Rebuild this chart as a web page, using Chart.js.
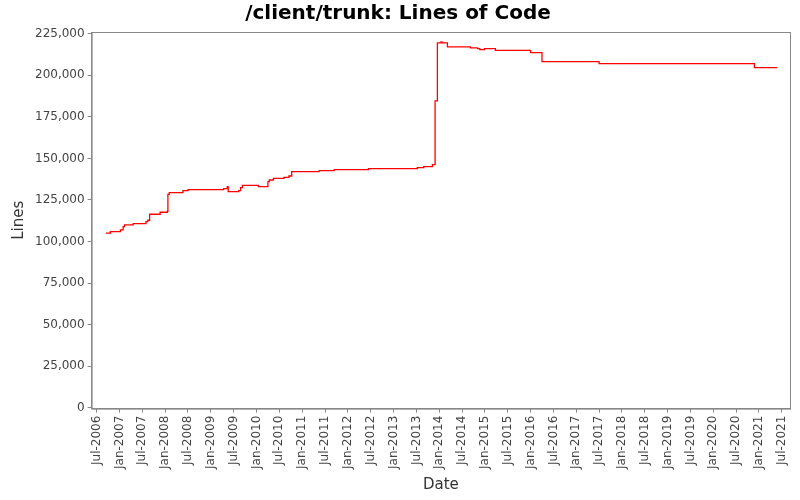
<!DOCTYPE html>
<html>
<head>
<meta charset="utf-8">
<script src="https://cdn.jsdelivr.net/npm/chart.js@4"></script>
<style>
  html, body { margin: 0; padding: 0; background: #fff; }
  #wrap { width: 800px; height: 500px; }
</style>
</head>
<body>
<div id="wrap"><canvas id="c" width="800" height="500"></canvas></div>
<script>
// decimal years where a new line count starts
const dates = [2006.70, 2006.80, 2007.02, 2007.08, 2007.11, 2007.30, 2007.58, 2007.62, 2007.66, 2007.89,
  2008.05, 2008.06, 2008.09, 2008.39, 2008.50, 2009.28, 2009.36, 2009.38, 2009.61, 2009.65,
  2009.69, 2010.04, 2010.25, 2010.28, 2010.37, 2010.60, 2010.71, 2010.77, 2011.37, 2011.70,
  2012.45, 2013.52, 2013.66, 2013.85, 2013.91, 2013.96, 2014.04, 2014.06, 2014.18, 2014.68,
  2014.84, 2014.89, 2014.99, 2015.23, 2016.00, 2016.25, 2017.50, 2020.90, 2021.40];
const lines = [105000, 106000, 107000, 109000, 110000, 110800, 112000, 112800, 116400, 117600,
  118200, 128400, 129400, 130600, 131200, 131800, 133000, 130000, 130600, 132400,
  133800, 133000, 136000, 137000, 138000, 138600, 139400, 142000, 142600, 143200,
  143800, 144400, 145000, 146200, 184600, 219400, 220000, 219400, 217000, 216400,
  216000, 215400, 216000, 215000, 213600, 208200, 207000, 204600, 204600];
const yTicks = [0, 25000, 50000, 75000, 100000, 125000, 150000, 175000, 200000, 225000];
const xTicks = [];
for (let y = 2006.5; y <= 2021.5; y += 0.5) xTicks.push(y);
const months = ['Jan', 'Jul'];

const font = { family: 'DejaVu Sans', size: 12 };
new Chart(document.getElementById('c'), {
  type: 'line',
  data: {
    datasets: [{
      data: dates.map((d, i) => ({ x: d, y: lines[i] })),
      borderColor: '#ff0000',
      borderWidth: 1.3,
      pointRadius: 0,
      stepped: 'before',
      fill: false
    }]
  },
  options: {
    responsive: false,
    animation: false,
    layout: { padding: { left: 6, right: 10, top: 0, bottom: 2 } },
    plugins: {
      legend: { display: false },
      tooltip: { enabled: false },
      title: {
        display: true,
        text: '/client/trunk: Lines of Code',
        color: '#000',
        font: { family: 'DejaVu Sans', size: 20, weight: 'bold' },
        padding: { top: 2, bottom: 6 }
      }
    },
    scales: {
      x: {
        type: 'linear',
        min: 2006.39,
        max: 2021.68,
        afterBuildTicks: s => { s.ticks = xTicks.map(v => ({ value: v })); },
        ticks: {
          autoSkip: false,
          maxRotation: 90,
          minRotation: 90,
          color: '#444',
          font,
          callback: v => months[Math.round((v % 1) * 2)] + '-' + Math.floor(v)
        },
        grid: { drawOnChartArea: false, color: '#888', tickLength: 4 },
        border: { color: '#888' },
        title: { display: true, text: 'Date', color: '#333', font: { family: 'DejaVu Sans', size: 15 } }
      },
      y: {
        min: -500,
        max: 226000,
        afterBuildTicks: s => { s.ticks = yTicks.map(v => ({ value: v })); },
        ticks: { color: '#444', font, callback: v => v.toLocaleString('en-US') },
        grid: { drawOnChartArea: false, color: '#888', tickLength: 4 },
        border: { color: '#888' },
        title: { display: true, text: 'Lines', color: '#333', font: { family: 'DejaVu Sans', size: 15 } }
      }
    }
  },
  plugins: [{
    id: 'frame',
    afterDraw(chart) {
      const { ctx, chartArea: a } = chart;
      ctx.save();
      ctx.strokeStyle = '#888';
      ctx.lineWidth = 1;
      ctx.strokeRect(a.left + 0.5, a.top + 0.5, a.right - a.left, a.bottom - a.top);
      ctx.restore();
    }
  }]
});
</script>
</body>
</html>
